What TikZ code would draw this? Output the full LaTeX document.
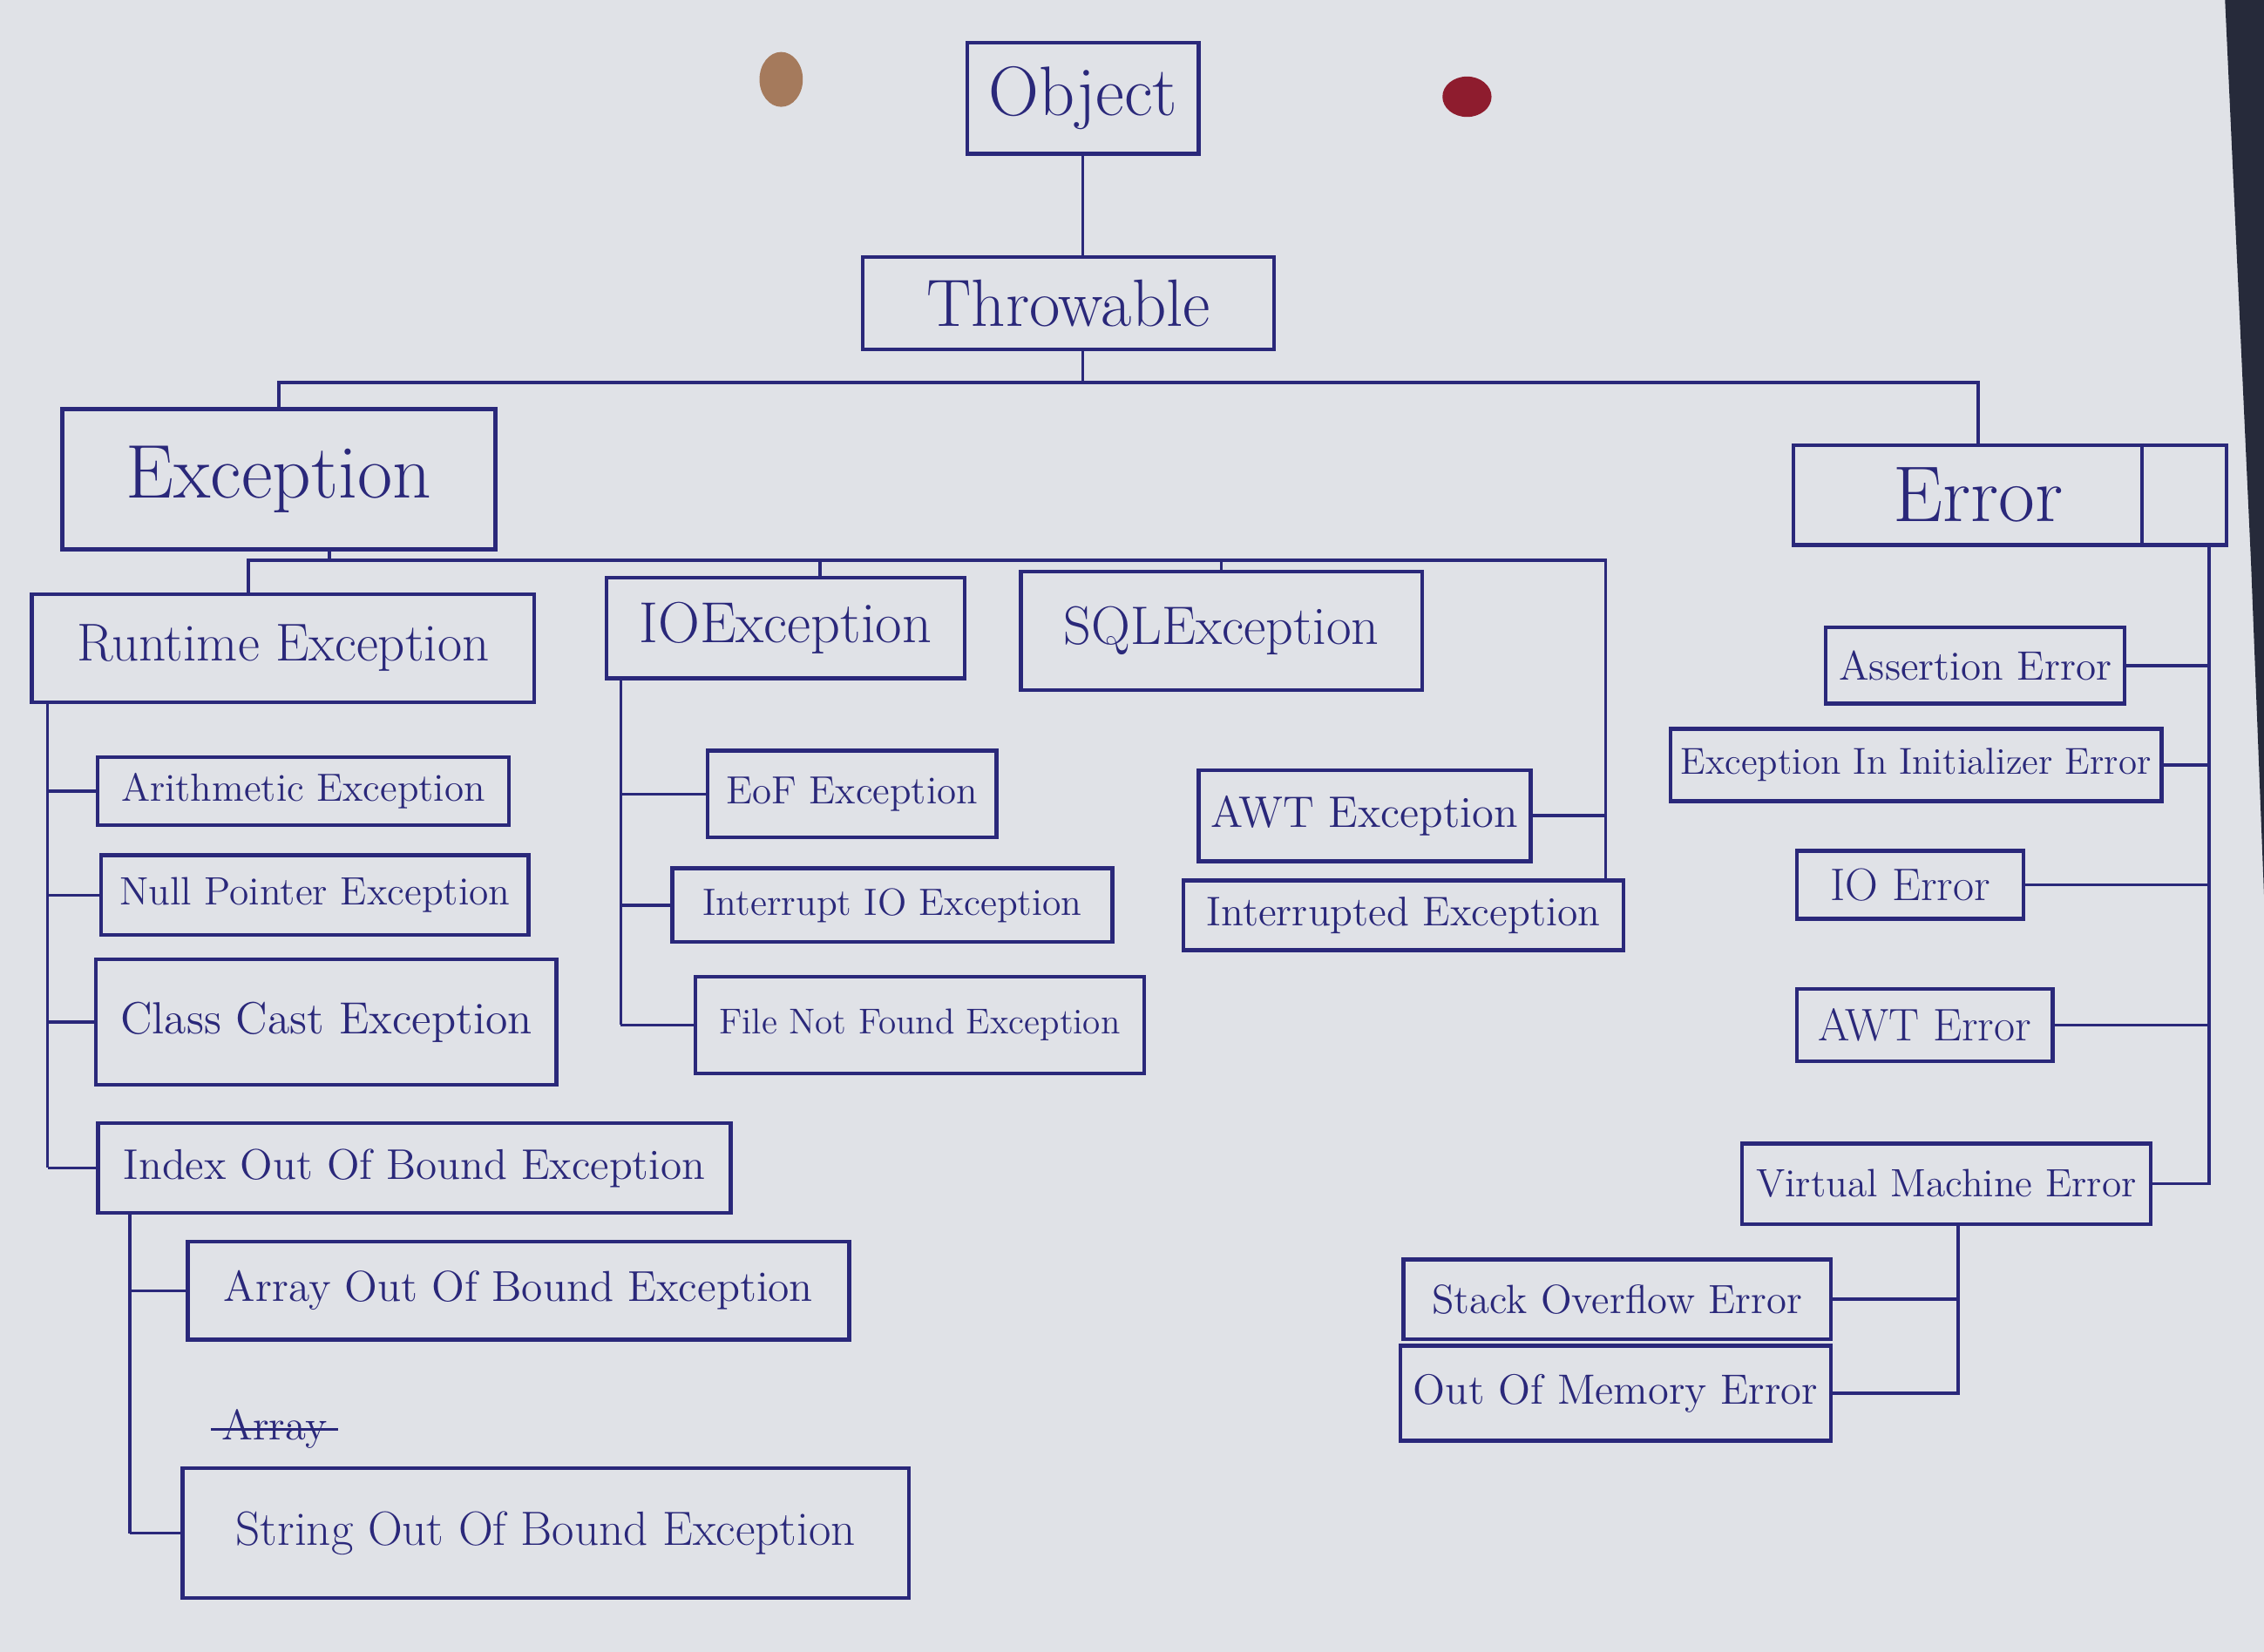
\documentclass[tikz,border=0pt]{standalone}
\usetikzlibrary{calc}
\definecolor{ink}{RGB}{42,40,122}
\definecolor{paper}{RGB}{224,226,231}
\definecolor{desk}{RGB}{38,42,58}
\definecolor{stainA}{RGB}{165,122,92}
\definecolor{stainB}{RGB}{142,28,46}
\def\u{0.1667mm}
\tikzset{
	box/.style n args={3}{draw=ink, line width=1.3pt, text=ink, inner sep=0pt,
		minimum width={#1*\u}, minimum height={#2*\u}, font=\fontsize{#3}{#3}\selectfont},
	wire/.style={draw=ink, line width=1pt}
}

\begin{document}
\begin{tikzpicture}[x=\u, y=-\u]
			%%%%% START %%%%%
			\useasboundingbox (0,0) rectangle (1568,1144);
			\fill[paper] (0,0) rectangle (1568,1144);
			\fill[desk] (1541,0) -- (1568,0) -- (1568,620) -- (1559,390) -- cycle;
			\fill[stainA] (541,55) ellipse (15 and 19);
			\fill[stainB] (1016,67) ellipse (17 and 14);
			
			\node[box={160}{77}{23}] (obj) at (750,68) {Object};
			\node[box={285}{64}{22}] (thr) at (740,210) {Throwable};
			\node[box={300}{97}{25}] (exc) at (193,332) {Exception};
			\node[box={300}{69}{26}] (err) at (1392,343) {Error\kern7.3mm};
			
			\node[box={348}{75}{17.5}] (rte) at (196,449) {Runtime Exception};
			\node[box={248}{70}{19}] (ioe) at (544,435) {IOException};
			\node[box={278}{82}{17.8}] (sql) at (846,437) {SQLException};
			
			\node[box={285}{47}{12.9}] (ari) at (210,548) {Arithmetic Exception};
			\node[box={296}{55}{13}] (npe) at (218,620) {Null Pointer Exception};
			\node[box={319}{87}{14.8}] (cce) at (226,708) {Class Cast Exception};
			\node[box={438}{62}{14.1}] (ioob) at (287,809) {Index Out Of Bound Exception};
			\node[box={458}{68}{14.2}] (aoob) at (359,894) {Array Out Of Bound Exception};
			\node[box={503}{90}{15.8}] (soob) at (378,1062) {String Out Of Bound Exception};
			\node[text=ink, font=\fontsize{14}{14}\selectfont] (strk) at (190,990) {Array};
			\draw[wire] (strk.west) -- (strk.east);
			
			\node[box={200}{60}{12.9}] (eof) at (590,550) {EoF Exception};
			\node[box={305}{51}{12.5}] (iioe) at (618,627) {Interrupt IO Exception};
			\node[box={311}{67}{11.8}] (fnf) at (637,710) {File Not Found Exception};
			
			\node[box={230}{63}{14.5}] (awte) at (945,565) {AWT Exception};
			\node[box={305}{48}{13.6}] (inte) at (972,634) {Interrupted Exception};
			
			\node[box={207}{53}{13.5}] (asse) at (1368,461) {Assertion Error};
			\node[box={340}{50}{12.3}] (eiie) at (1327,530) {Exception In Initializer Error};
			\node[box={157}{47}{15}] (ioerr) at (1323,613) {IO Error};
			\node[box={177}{50}{15}] (awterr) at (1333,710) {AWT Error};
			\node[box={283}{56}{13}] (vme) at (1348,820) {Virtual Machine Error};
			\node[box={296}{55}{13.4}] (soe) at (1120,900) {Stack Overflow Error};
			\node[box={298}{66}{13.9}] (oome) at (1119,965) {Out Of Memory Error};
			
			\draw[draw=ink, line width=1.3pt] ($(err.north east)+(-60,0)$) -- ($(err.south east)+(-60,0)$);
			
			% top of the tree
			\coordinate (tb) at (750,265);
			\coordinate (eh) at (1370,308);
			\draw[wire] (obj.south) -- (obj.south |- thr.north);
			\draw[wire] (thr.south -| tb) -- (tb);
			\draw[wire] (exc.north) |- (tb) -| (eh);
			
			% exception side
			\coordinate (xd) at (228,380);
			\coordinate (xb) at (228,388);
			\coordinate (xe) at (1112,388);
			\coordinate (rtetop) at (172,412);
			\coordinate (ioetop) at (568,400);
			\draw[wire] (xd) -- (xb);
			\draw[wire] (rtetop) |- (xe) -- (xe |- inte.north);
			\draw[wire] (xb) -| (ioetop);
			\draw[wire] (xb) -| (sql.north);
			\draw[wire] (awte.east) -- (awte.east -| xe);
			
			\coordinate (rb) at (33,487);
			\draw[wire] (rb) -- (rb |- ioob.west);
			\foreach \c in {ari,npe,cce,ioob}
				\draw[wire] (\c.west) -- (\c.west -| rb);
			
			\coordinate (ib) at (90,840);
			\draw[wire] (ib) -- (ib |- soob.west);
			\foreach \c in {aoob,soob}
				\draw[wire] (\c.west) -- (\c.west -| ib);
			
			\coordinate (ob) at (430,470);
			\draw[wire] (ob) -- (ob |- fnf.west);
			\foreach \c in {eof,iioe,fnf}
				\draw[wire] (\c.west) -- (\c.west -| ob);
			
			% error side
			\coordinate (eb) at (1530,377);
			\draw[wire] (eb) |- (vme.east);
			\foreach \c in {asse,eiie,ioerr,awterr}
				\draw[wire] (\c.east) -- (\c.east -| eb);
			
			\coordinate (vb) at (1356,848);
			\draw[wire] (vb) |- (oome.east);
			\draw[wire] (soe.east) -- (soe.east -| vb);
			%%%%% END %%%%%
\end{tikzpicture}
\end{document}
